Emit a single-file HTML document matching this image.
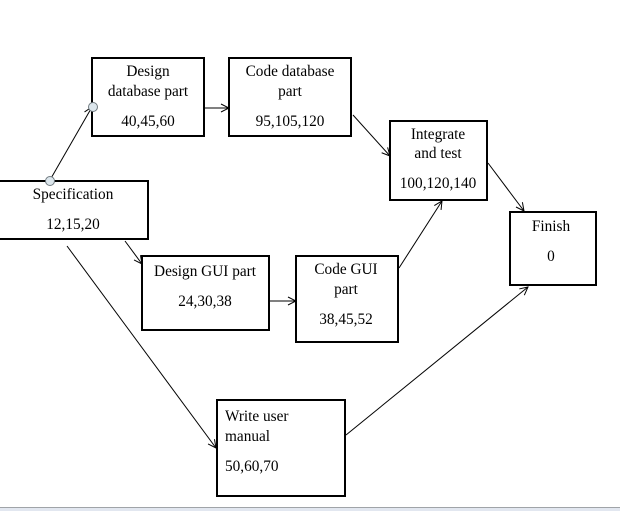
<!DOCTYPE html>
<html><head><meta charset="utf-8"><style>
html,body{margin:0;padding:0;background:#fff;}
svg{display:block;}
text{font-family:"Liberation Serif",serif;font-size:15.3px;fill:#000;}
</style></head><body>
<svg width="620" height="511" viewBox="0 0 620 511" xmlns="http://www.w3.org/2000/svg">
<defs>
<marker id="a" markerWidth="10" markerHeight="10" refX="9" refY="5" orient="auto" markerUnits="userSpaceOnUse">
<path d="M1,1 L9,5 L1,9" fill="none" stroke="#000" stroke-width="1"/>
</marker>
</defs>
<g fill="#fff" stroke="#000" stroke-width="2">
<rect x="92" y="58" width="112" height="78"/>
<rect x="229" y="58" width="122" height="78"/>
<rect x="-2" y="181" width="150" height="58"/>
<rect x="390" y="121" width="97" height="79"/>
<rect x="510" y="212" width="86" height="73"/>
<rect x="142" y="256" width="127" height="74"/>
<rect x="296" y="256" width="102" height="86"/>
<rect x="217" y="400" width="128" height="96"/>
</g>
<g stroke="#000" stroke-width="1" fill="none" marker-end="url(#a)">
<line x1="50" y1="180" x2="92" y2="107"/>
<line x1="205" y1="108" x2="229" y2="108"/>
<line x1="353" y1="115" x2="390" y2="156"/>
<line x1="488" y1="163" x2="524" y2="211"/>
<line x1="125" y1="241" x2="142" y2="264"/>
<line x1="270" y1="301" x2="296" y2="301"/>
<line x1="399" y1="268" x2="442" y2="201"/>
<line x1="67" y1="246" x2="216" y2="448"/>
<line x1="346" y1="435" x2="528" y2="287"/>
</g>
<circle cx="50" cy="181" r="4.5" fill="#dce6ec" stroke="#707a80" stroke-width="1"/>
<circle cx="93" cy="107" r="4.5" fill="#dce6ec" stroke="#707a80" stroke-width="1"/>
<g text-anchor="middle">
<text x="148" y="76">Design</text>
<text x="148" y="96">database part</text>
<text x="148" y="126">40,45,60</text>
<text x="290" y="76">Code database</text>
<text x="290" y="96">part</text>
<text x="290" y="126">95,105,120</text>
<text x="73" y="199">Specification</text>
<text x="73" y="229">12,15,20</text>
<text x="438" y="139">Integrate</text>
<text x="438" y="158">and test</text>
<text x="438" y="188">100,120,140</text>
<text x="551" y="231">Finish</text>
<text x="551" y="261">0</text>
<text x="205" y="276">Design GUI part</text>
<text x="205" y="306">24,30,38</text>
<text x="346" y="274">Code GUI</text>
<text x="346" y="294">part</text>
<text x="346" y="324">38,45,52</text>
</g>
<text x="225" y="421">Write user</text>
<text x="225" y="441">manual</text>
<text x="225" y="471">50,60,70</text>
<rect x="0" y="507" width="620" height="1" fill="#a0a4a8"/>
<rect x="0" y="508" width="620" height="3" fill="#e2e7f0"/>
</svg>
</body></html>
